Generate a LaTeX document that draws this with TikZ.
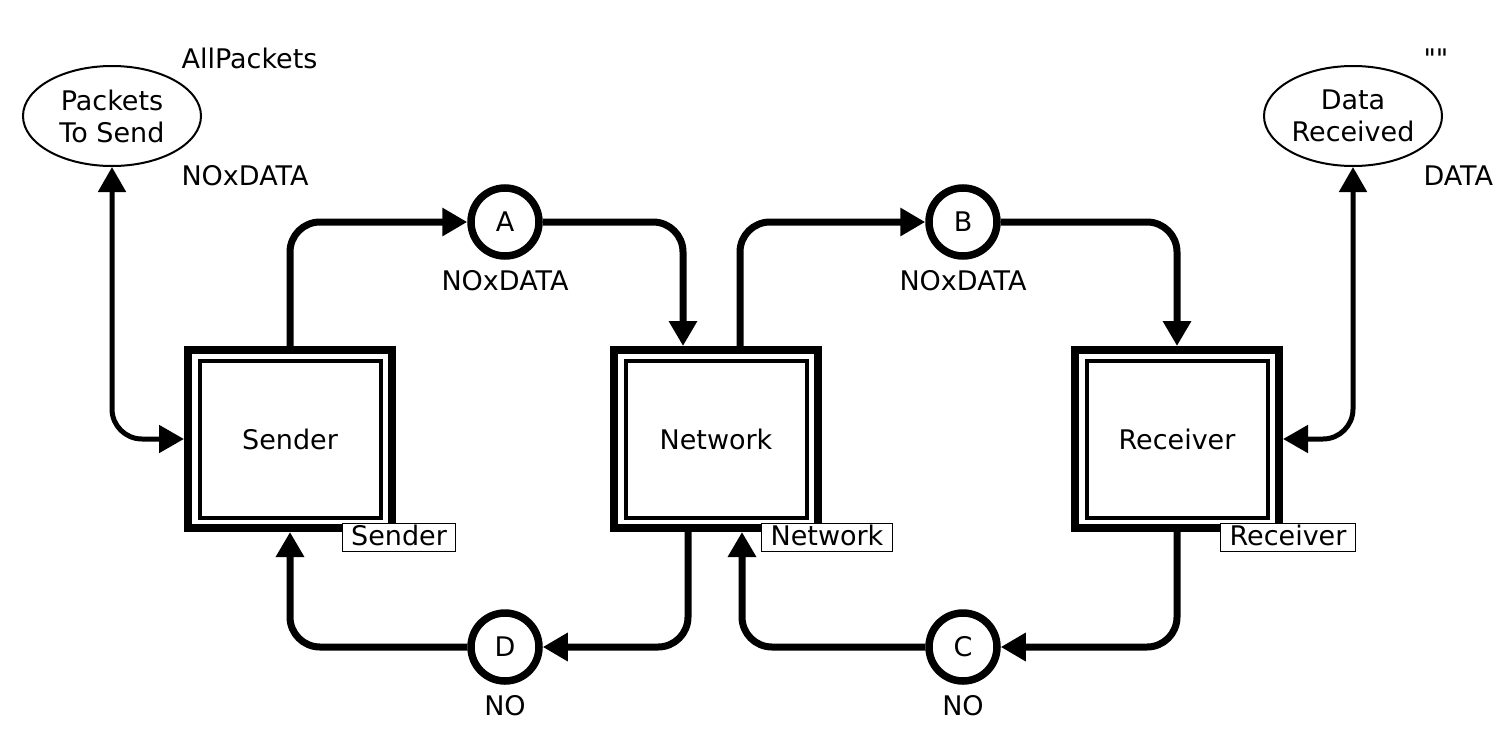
\documentclass[tikz,border=0pt]{standalone}
\usepackage{fontspec}
\setmainfont{DejaVu Sans}[Ligatures = TeXOff]
\usetikzlibrary{arrows.meta, shapes.geometric, positioning}
\tikzset{> = { Triangle[length = 25pt, width = 27pt] }}

\begin{document}
\begin{tikzpicture}[x = 1pt, y = -1pt, font = \fontsize{27}{32}\selectfont,
		place/.style = { draw, circle, line width = 7.5pt, minimum size = 68pt, inner sep = 0pt },
		pool/.style = { draw, ellipse, line width = 2pt, minimum width = 178pt, minimum height = 100pt, align = center, inner sep = 0pt },
		trans/.style = { draw, line width = 8pt, minimum width = 204pt, minimum height = 178pt },
		transin/.style = { draw, line width = 4pt, minimum width = 181pt, minimum height = 157pt },
		tag/.style = { draw, fill = white, line width = 1pt, inner xsep = 9pt, inner ysep = 0pt, text height = 22pt, text depth = 6pt, anchor = north },
		arc/.style = { ->, line width = 7pt, rounded corners = 30pt },
		io/.style = { <->, line width = 5pt, rounded corners = 30pt }]
		\useasboundingbox (0, 0) rectangle (1506, 731);

		\node [trans]   (sender)      at (290, 439)  {};
		\node [transin] (sender-in)   at (sender)    {Sender};
		\node [trans]   (network)     at (716, 439)  {};
		\node [transin] (network-in)  at (network)   {Network};
		\node [trans]   (receiver)    at (1177, 439) {};
		\node [transin] (receiver-in) at (receiver)  {Receiver};

		\node [tag] (sender-tag)   at ([xshift = 3pt, yshift = 9pt] sender.south east)   {Sender};
		\node [tag] (network-tag)  at ([xshift = 5pt, yshift = 9pt] network.south east)  {Network};
		\node [tag] (receiver-tag) at ([xshift = 5pt, yshift = 9pt] receiver.south east) {Receiver};

		\node [place] (a) at (505, 222) {A};
		\node [place] (b) at (963, 222) {B};
		\node [place] (c) at (963, 647) {C};
		\node [place] (d) at (505, 647) {D};

		\node [below = 7pt of a] (a-type) {NOxDATA};
		\node [below = 7pt of b] (b-type) {NOxDATA};
		\node [below = 7pt of c] (c-type) {NO};
		\node [below = 7pt of d] (d-type) {NO};

		\node [pool] (packets) at (112, 116)  {Packets\\To Send};
		\node [pool] (data)    at (1353, 116) {Data\\Received};

		\node [anchor = base west] (packets-init) at (178, 68)  {AllPackets};
		\node [anchor = base west] (packets-type) at (178, 185) {NOxDATA};
		\node [anchor = base west] (data-init)    at (1420, 68)  {""};
		\node [anchor = base west] (data-type)    at (1420, 185) {DATA};

		\draw [arc] (sender.north) |- (a);
		\draw [arc] (a) -| ([xshift = -33pt] network.north);
		\draw [arc] ([xshift = 24pt] network.north) |- (b);
		\draw [arc] (b) -| (receiver);

		\draw [arc] (receiver) |- (c);
		\draw [arc] (c) -| ([xshift = 26pt] network.south);
		\draw [arc] ([xshift = -28pt] network.south) |- (d);
		\draw [arc] (d) -| (sender);

		\draw [io] (packets) |- (sender);
		\draw [io] (data) |- (receiver);
	\end{tikzpicture}
\end{document}
